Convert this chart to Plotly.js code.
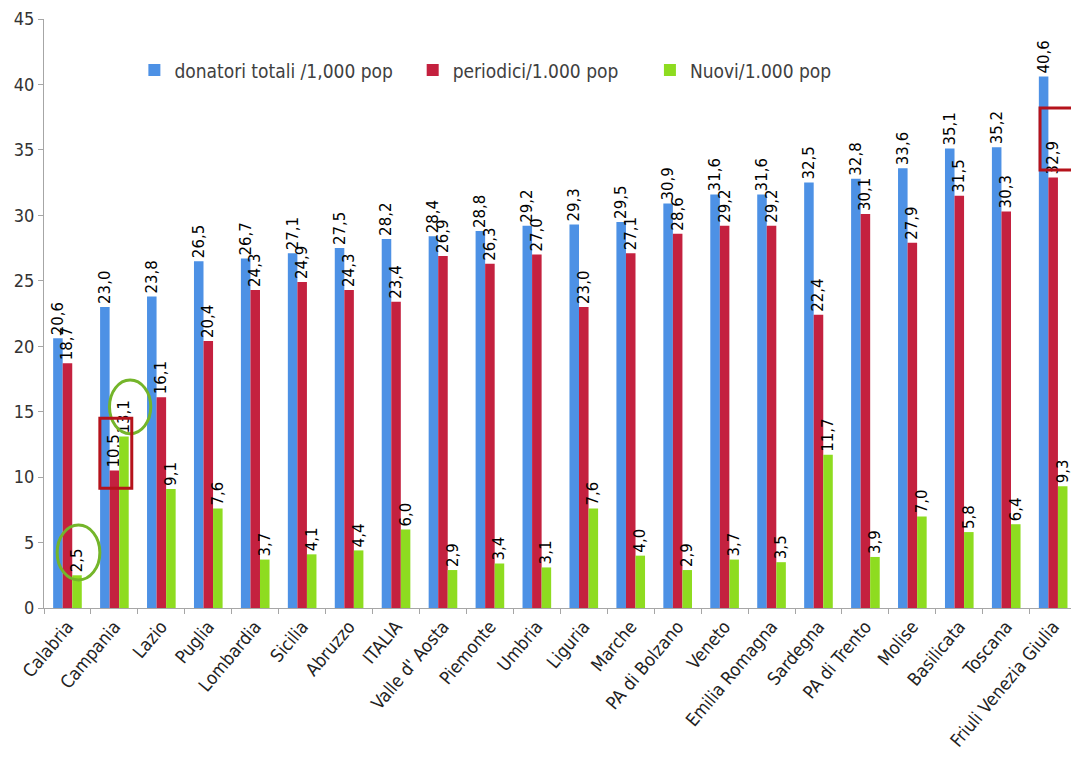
<!DOCTYPE html>
<html>
<head>
<meta charset="utf-8">
<script src="https://cdn.plot.ly/plotly-3.0.1.min.js"></script>
<style>html,body{margin:0;padding:0;background:#fff;}#chart{width:1071px;height:767px;}</style>
</head>
<body>
<div id="chart"></div>
<script>
const regions = ["Calabria","Campania","Lazio","Puglia","Lombardia","Sicilia","Abruzzo","ITALIA","Valle d' Aosta","Piemonte","Umbria","Liguria","Marche","PA di Bolzano","Veneto","Emilia Romagna","Sardegna","PA di Trento","Molise","Basilicata","Toscana","Friuli Venezia Giulia"];
const totali = [20.6,23.0,23.8,26.5,26.7,27.1,27.5,28.2,28.4,28.8,29.2,29.3,29.5,30.9,31.6,31.6,32.5,32.8,33.6,35.1,35.2,40.6];
const periodici = [18.7,10.5,16.1,20.4,24.3,24.9,24.3,23.4,26.9,26.3,27.0,23.0,27.1,28.6,29.2,29.2,22.4,30.1,27.9,31.5,30.3,32.9];
const nuovi = [2.5,13.1,9.1,7.6,3.7,4.1,4.4,6.0,2.9,3.4,3.1,7.6,4.0,2.9,3.7,3.5,11.7,3.9,7.0,5.8,6.4,9.3];
const seriesNames = ["donatori totali /1,000 pop","periodici/1.000 pop","Nuovi/1.000 pop"];
const seriesColors = ["#4D91E5","#C4213F","#8EDC20"];

const NARROW = "Liberation Sans Narrow, DejaVu Sans Condensed, Liberation Sans, Arial, sans-serif";
const legendNames = ["legend","legend2","legend3"];
const data = [totali, periodici, nuovi].map((vals, i) => ({
  type: "bar",
  x: regions,
  y: vals,
  name: seriesNames[i],
  legend: legendNames[i],
  marker: {color: seriesColors[i], line: {width: 0}},
  texttemplate: "%{y:.1f}",
  textposition: "outside",
  textangle: -90,
  constraintext: "none",
  cliponaxis: false,
  textfont: {family: "DejaVu Sans, Verdana, sans-serif", size: 15, color: "#000"},
  hoverinfo: "skip"
}));

function legendAt(x) {
  return {orientation: "h", x: x, xanchor: "left", y: 0.913, yanchor: "middle",
    bgcolor: "rgba(0,0,0,0)", borderwidth: 0,
    font: {family: NARROW, size: 19, color: "#404040"}};
}

const layout = {
  width: 1071, height: 767,
  margin: {l: 44, r: 0, t: 19, b: 159},
  paper_bgcolor: "#fff", plot_bgcolor: "#fff",
  separators: ",.",
  barmode: "group",
  bargap: 0.39,
  bargroupgap: 0,
  showlegend: true,
  legend: legendAt(0.088),
  legend2: legendAt(0.359),
  legend3: legendAt(0.590),
  xaxis: {
    type: "category",
    range: [-0.5, 21.38],
    showgrid: false, zeroline: false,
    showline: true, linecolor: "#A6A6A6", linewidth: 1,
    ticks: "outside", tickson: "boundaries", ticklen: 5, tickcolor: "#A6A6A6",
    tickangle: -50,
    tickfont: {family: NARROW, size: 18, color: "#222"}
  },
  yaxis: {
    range: [0, 45],
    dtick: 5,
    showgrid: false, zeroline: false,
    showline: true, linecolor: "#A6A6A6", linewidth: 1,
    ticks: "outside", ticklen: 5, tickcolor: "#A6A6A6",
    tickfont: {family: NARROW, size: 18, color: "#333"}
  },
  shapes: [
    {type: "circle", xref: "x", yref: "y", x0: -0.22, x1: 0.69, y0: 2.14, y1: 6.34,
      line: {color: "#74B52A", width: 3}},
    {type: "circle", xref: "x", yref: "y", x0: 0.895, x1: 1.775, y0: 13.32, y1: 17.42,
      line: {color: "#74B52A", width: 3}},
    {type: "rect", xref: "x", yref: "y", x0: 0.69, x1: 1.37, y0: 9.15, y1: 14.5,
      line: {color: "#B5121B", width: 3}},
    {type: "rect", xref: "x", yref: "y", x0: 20.72, x1: 21.7, y0: 33.46, y1: 38.2,
      line: {color: "#B5121B", width: 3}}
  ]
};

Plotly.newPlot("chart", data, layout, {displayModeBar: false, staticPlot: true});
</script>
</body>
</html>
